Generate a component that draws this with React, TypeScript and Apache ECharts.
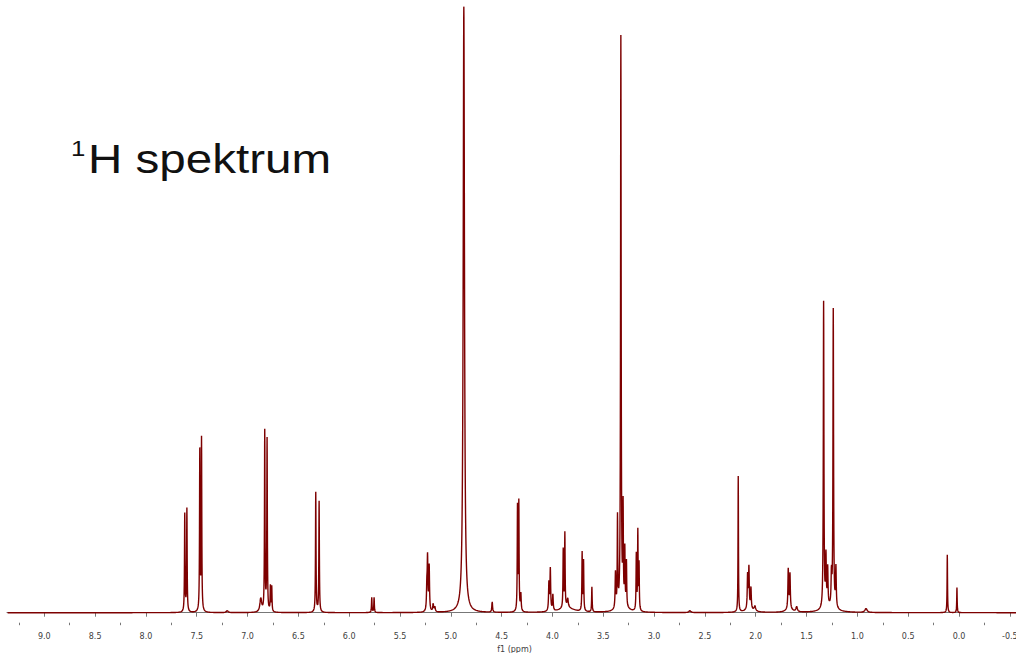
import React, { useEffect, useRef } from "react";
import * as echarts from "echarts";

// Axis range (ppm), inverted NMR axis
const X_MIN = -0.561;
const X_MAX = 9.367;

// Tick positions
const MAJOR_TICKS = [9.0, 8.5, 8.0, 7.5, 7.0, 6.5, 6.0, 5.5, 5.0, 4.5, 4.0, 3.5, 3.0, 2.5, 2.0, 1.5, 1.0, 0.5, 0.0, -0.5];
const MINOR_TICKS = [9.25, 8.75, 8.25, 7.75, 7.25, 6.75, 6.25, 5.75, 5.25, 4.75, 4.25, 3.75, 3.25, 2.75, 2.25, 1.75, 1.25, 0.75, 0.25, -0.25];

// Peak list: position (ppm), height, half-width (ppm)
const PEAK_PPM = [
  7.618, 7.597,
  7.470, 7.453,
  7.200,
  6.870, 6.831, 6.808, 6.775, 6.762,
  6.329, 6.296,
  5.778, 5.755,
  5.236, 5.229, 5.213, 5.174, 5.157,
  4.872,
  4.593,
  4.344, 4.331, 4.311,
  4.035, 4.021, 3.996,
  3.894, 3.878, 3.850,
  3.708, 3.694,
  3.612,
  3.380, 3.360, 3.327, 3.305, 3.288, 3.272,
  3.175, 3.160, 3.148,
  2.648,
  2.172,
  2.080, 2.067, 2.047, 2.008,
  1.680, 1.663, 1.597,
  1.332, 1.309, 1.292,
  1.255, 1.237, 1.211,
  0.915,
  0.115, 0.020,
  3.860, 3.300, 1.270, 2.060, 1.670,
];
const PEAK_HEIGHT = [
  98, 103,
  160, 172,
  2,
  14, 180, 172, 25, 25,
  120, 111,
  15, 15,
  22, 52, 45, 8, 5,
  606,
  11,
  104, 108, 17,
  28, 42, 16,
  58, 74, 9,
  58, 50,
  25,
  36, 90, 571, 96, 56, 45,
  56, 79, 46,
  2,
  136,
  34, 41, 21, 5,
  40, 35, 5,
  307, 50, 38,
  32, 298, 40,
  4,
  58, 25,
  5, 4, 4, 3, 3,
];
const PEAK_WIDTH = [
  0.003, 0.003,
  0.003, 0.003,
  0.01,
  0.01, 0.003, 0.003, 0.003, 0.003,
  0.003, 0.003,
  0.003, 0.003,
  0.004, 0.004, 0.004, 0.005, 0.005,
  0.0075,
  0.004,
  0.003, 0.003, 0.004,
  0.004, 0.004, 0.004,
  0.003, 0.003, 0.006,
  0.003, 0.003,
  0.003,
  0.004, 0.003, 0.0035, 0.003, 0.003, 0.003,
  0.003, 0.003, 0.003,
  0.01,
  0.0025,
  0.004, 0.004, 0.004, 0.008,
  0.004, 0.004, 0.008,
  0.0035, 0.004, 0.004,
  0.004, 0.0035, 0.004,
  0.012,
  0.0025, 0.0025,
  0.08, 0.06, 0.08, 0.05, 0.04,
];

const LINE_COLOR = "#7d0000";

function buildSpectrum(): [number, number][] {
  const xs: number[] = [];
  const step = 0.001;
  const n = Math.round((X_MAX - X_MIN) / step);
  for (let i = 0; i <= n; i++) xs.push(X_MIN + i * step);
  for (const c of PEAK_PPM) xs.push(c);
  xs.sort((a, b) => a - b);
  return xs.map((x) => {
    let y = 0;
    for (let k = 0; k < PEAK_PPM.length; k++) {
      const d = (x - PEAK_PPM[k]) / PEAK_WIDTH[k];
      y += PEAK_HEIGHT[k] / (1 + d * d);
    }
    return [x, y];
  });
}

export default function App() {
  const ref = useRef<HTMLDivElement>(null);
  useEffect(() => {
    if (!ref.current) return;
    const chart = echarts.init(ref.current, undefined, { renderer: "svg" });
    const axisFont = "DejaVu Sans";
    chart.setOption({
      animation: false,
      backgroundColor: "#ffffff",
      grid: { left: 7, right: 0, top: 7, bottom: 30.3, outerBoundsMode: "none" },
      xAxis: [
        {
          type: "value",
          position: "bottom",
          inverse: true,
          min: X_MIN,
          max: X_MAX,
          name: "f1 (ppm)",
          nameLocation: "middle",
          nameGap: 19,
          nameTextStyle: { fontSize: 8, color: "#404040", fontFamily: axisFont, padding: [0, 0, 0, 6] },
          axisLine: { show: true, lineStyle: { color: "#777777", width: 1.2 } },
          axisTick: { show: true, inside: false, length: 4, customValues: MAJOR_TICKS, lineStyle: { color: "#777777", width: 1 } },
          axisLabel: {
            show: true,
            customValues: MAJOR_TICKS,
            margin: 10,
            fontSize: 8,
            color: "#404040",
            fontFamily: axisFont,
            hideOverlap: false,
            formatter: (v: number) => v.toFixed(1),
          },
          splitLine: { show: false },
        },
        {
          type: "value",
          position: "bottom",
          inverse: true,
          min: X_MIN,
          max: X_MAX,
          axisLine: { show: false },
          axisTick: { show: true, inside: false, length: 2.5, customValues: MINOR_TICKS, lineStyle: { color: "#777777", width: 1 } },
          axisLabel: { show: false },
          splitLine: { show: false },
        },
      ],
      yAxis: {
        type: "value",
        min: -10,
        max: 605.7,
        show: false,
        splitLine: { show: false },
      },
      series: [
        {
          type: "line",
          xAxisIndex: 0,
          data: buildSpectrum(),
          showSymbol: false,
          symbol: "none",
          clip: true,
          lineStyle: { color: LINE_COLOR, width: 1.4 },
          silent: true,
        },
      ],
      graphic: [
        {
          type: "text",
          x: 71,
          y: 148,
          scaleX: 1.12,
          style: {
            text: "1",
            font: "23px 'Liberation Sans', Arial, sans-serif",
            fill: "#111111",
            verticalAlign: "middle",
            align: "left",
          },
        },
        {
          type: "text",
          x: 88,
          y: 159,
          scaleX: 1.16,
          style: {
            text: "H spektrum",
            font: "41px 'Liberation Sans', Arial, sans-serif",
            fill: "#111111",
            verticalAlign: "middle",
            align: "left",
          },
        },
      ],
    });
    return () => chart.dispose();
  }, []);
  return (
    <div
      ref={ref}
      style={{ position: "fixed", left: 0, top: 0, width: 1016, height: 653, background: "#fff" }}
    />
  );
}
